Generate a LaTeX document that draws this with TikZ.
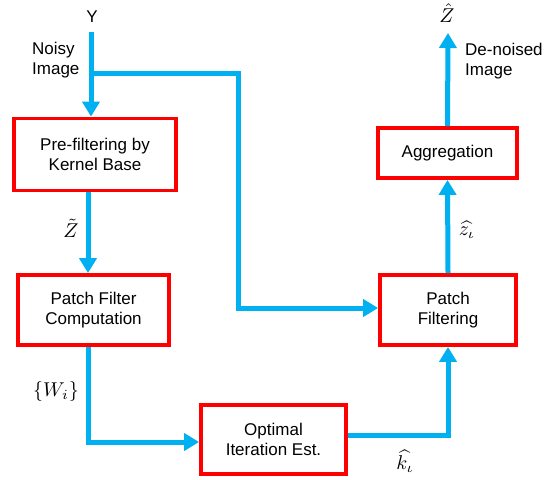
\documentclass[tikz,border=0pt]{standalone}
\usepackage{fontspec}
\setmainfont{Liberation Sans}
\usepackage{amsmath}
\usepackage{graphicx}
\usetikzlibrary{arrows.meta,calc}
\definecolor{flowblue}{RGB}{0,176,240}
\definecolor{boxred}{RGB}{255,0,0}
% enlarged math for the signal labels
\newcommand{\siglbl}[1]{\scalebox{2.0}{$#1$}}
\begin{document}
\begin{tikzpicture}[x=1pt,y=-1pt,
  every node/.style={font=\fontsize{17}{20}\selectfont},
  procbox/.style={draw=boxred,line width=3.8pt,fill=white,align=center,inner sep=0pt},
  flow/.style={draw=flowblue,line width=5pt,-{Triangle[length=15pt,width=17pt]}},
  mathlbl/.style={font=\fontsize{10}{12}\selectfont,inner sep=0pt},
  note/.style={align=left,anchor=west,inner sep=0pt}]
\useasboundingbox (0,0) rectangle (545,479);

% processing blocks
\node[procbox,minimum width=162pt,minimum height=72pt] (pre) at (95,154.5) {Pre-filtering by\\Kernel Base};
\node[procbox,minimum width=151pt,minimum height=70pt] (pfc) at (93.5,310) {Patch Filter\\Computation};
\node[procbox,minimum width=145pt,minimum height=69pt] (opt) at (273.5,439.5) {Optimal\\Iteration Est.};
\node[procbox,minimum width=136pt,minimum height=70pt] (pf) at (448,310) {Patch\\Filtering};
\node[procbox,minimum width=139pt,minimum height=50pt] (agg) at (447.5,153) {Aggregation};

% input and output
\node (y) at (92,17) {Y};
\node[mathlbl] (zout) at (447,13) {\siglbl{\hat{Z}}};
\coordinate (in) at (91,32);
\coordinate (split) at (91,73);
\coordinate (bend) at (238,73);
\coordinate (lane) at (88,0);
\coordinate (out) at (448,33);

% connectors
\draw[flow] (in) -- (in |- pre.north);
\draw[flow] (split) -- (bend) |- ([yshift=2pt]pf.west);
\draw[flow] (pre.south -| lane) -- (pfc.north -| lane);
\draw[flow] (pfc.south -| lane) |- ([yshift=-2.5pt]opt.west);
\draw[flow] ([yshift=4.5pt]opt.east) -| (pf.south);
\draw[flow] (pf.north) -- (agg.south);
\draw[flow] (agg.north) -- (out);

% labels
\node[note] (noisy) at (32,60) {Noisy\\Image};
\node[note] (denoised) at (465,61) {De-noised\\Image};
\node[mathlbl] (zt) at (71,228) {\siglbl{\tilde{Z}}};
\node[mathlbl] (wi) at (56,391) {\siglbl{\{W_i\}}};
\node[mathlbl] (zi) at (467,230) {\siglbl{\widehat{z_\iota}}};
\node[mathlbl] (ki) at (405,461) {\siglbl{\widehat{k_\iota}}};
\end{tikzpicture}
\end{document}
